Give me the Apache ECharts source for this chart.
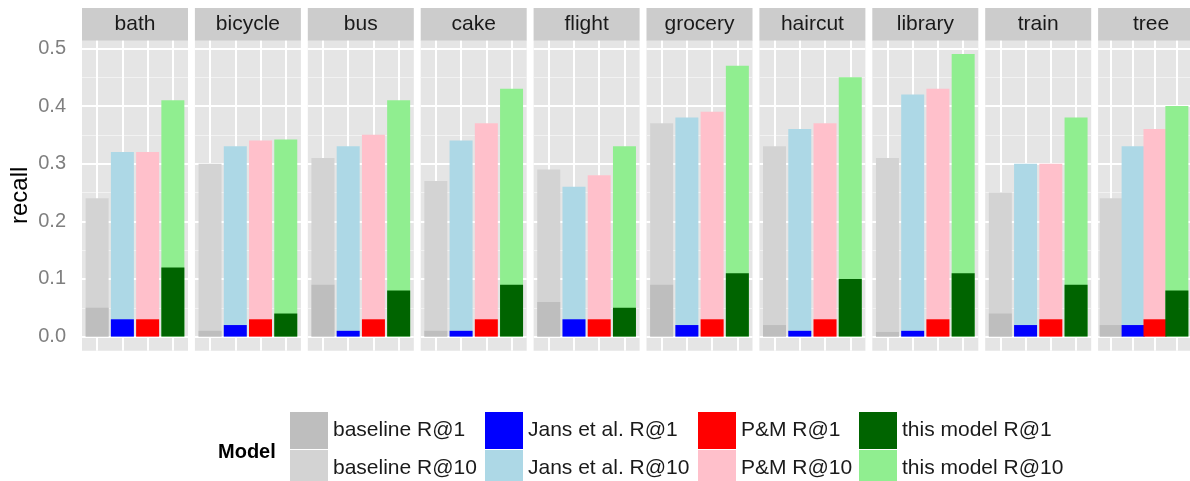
<!DOCTYPE html>
<html>
<head>
<meta charset="utf-8">
<script src="https://cdn.jsdelivr.net/npm/echarts@6/dist/echarts.min.js"></script>
<style>
  html, body { margin: 0; padding: 0; background: #fff; }
  #chart { width: 1190px; height: 481px; }
</style>
</head>
<body>
<div id="chart"></div>
<script>
// facets
const categories = ['bath', 'bicycle', 'bus', 'cake', 'flight', 'grocery', 'haircut', 'library', 'train', 'tree'];

// recall values per model, one entry per facet
const baselineR10 = [0.24, 0.30, 0.31, 0.27, 0.29, 0.37, 0.33, 0.31, 0.25, 0.24];
const baselineR1 = [0.05, 0.01, 0.09, 0.01, 0.06, 0.09, 0.02, 0.008, 0.04, 0.02];
const jansR10 = [0.32, 0.33, 0.33, 0.34, 0.26, 0.38, 0.36, 0.42, 0.30, 0.33];
const jansR1 = [0.03, 0.02, 0.01, 0.01, 0.03, 0.02, 0.01, 0.01, 0.02, 0.02];
const pmR10 = [0.32, 0.34, 0.35, 0.37, 0.28, 0.39, 0.37, 0.43, 0.30, 0.36];
const pmR1 = [0.03, 0.03, 0.03, 0.03, 0.03, 0.03, 0.03, 0.03, 0.03, 0.03];
const oursR10 = [0.41, 0.342, 0.41, 0.43, 0.33, 0.47, 0.45, 0.49, 0.38, 0.40];
const oursR1 = [0.12, 0.04, 0.08, 0.09, 0.05, 0.11, 0.10, 0.11, 0.09, 0.08];

const yTicks = ['0.0', '0.1', '0.2', '0.3', '0.4', '0.5'];

// model groups: R@1 name/colour, R@10 name/colour, data
const models = [
  { r1: 'baseline R@1', c1: '#BEBEBE', r10: 'baseline R@10', c10: '#D3D3D3', d1: baselineR1, d10: baselineR10 },
  { r1: 'Jans et al. R@1', c1: '#0000FF', r10: 'Jans et al. R@10', c10: '#ADD8E6', d1: jansR1, d10: jansR10 },
  { r1: 'P&M R@1', c1: '#FF0000', r10: 'P&M R@10', c10: '#FFC0CB', d1: pmR1, d10: pmR10 },
  { r1: 'this model R@1', c1: '#006400', r10: 'this model R@10', c10: '#90EE90', d1: oursR1, d10: oursR10 },
];

const FONT = 'Liberation Sans, Arial, Helvetica, sans-serif';
const panelLeft = 82, panelStep = 112.9, panelW = 106;
const panelTop = 40, panelH = 310.7;

const grids = [], xAxes = [], yAxes = [], series = [], graphics = [];

categories.forEach((cat, g) => {
  const left = panelLeft + g * panelStep;
  grids.push({ left: left, top: panelTop, width: panelW, height: panelH, backgroundColor: '#E5E5E5', show: true, borderWidth: 0 });
  xAxes.push({
    type: 'value', gridIndex: g, min: 0.4, max: 4.6,
    axisLine: { show: false }, axisTick: { show: false }, axisLabel: { show: false },
    splitLine: { show: true, showMinLine: false, showMaxLine: false, lineStyle: { color: '#fff', width: 2 } },
  });
  yAxes.push({
    type: 'value', gridIndex: g, min: -0.0245, max: 0.5145,
    axisLine: { show: false }, axisTick: { show: false },
    minorTick: { show: false, splitNumber: 2 },
    minorSplitLine: { show: true, lineStyle: { color: '#F2F2F2', width: 1 } },
    splitLine: { show: true, showMinLine: false, showMaxLine: false, lineStyle: { color: '#fff', width: 2 } },
    axisLabel: {
      show: g === 0, showMinLabel: false, showMaxLabel: false, margin: 16,
      color: '#7F7F7F', fontSize: 20, fontFamily: FONT,
      formatter: v => yTicks.includes(v.toFixed(1)) && Math.abs(v * 10 - Math.round(v * 10)) < 1e-6 ? v.toFixed(1) : '',
    },
    name: g === 0 ? 'recall' : '', nameLocation: 'middle', nameGap: 50, nameRotate: 90,
    nameTextStyle: { color: '#000', fontSize: 24, fontFamily: FONT },
  });

  models.forEach((m, k) => {
    series.push({
      name: m.r10, type: 'bar', xAxisIndex: g, yAxisIndex: g,
      barWidth: 23, barGap: '-100%', itemStyle: { color: m.c10 }, z: 2,
      silent: true, data: [[k + 1, m.d10[g]]],
    });
    series.push({
      name: m.r1, type: 'bar', xAxisIndex: g, yAxisIndex: g,
      barWidth: 23, barGap: '-100%', itemStyle: { color: m.c1 }, z: 3,
      silent: true, data: [[k + 1, m.d1[g]]],
    });
  });

  // facet strip
  graphics.push({ type: 'rect', shape: { x: left, y: 8, width: panelW, height: 32.5 }, style: { fill: '#CCCCCC' }, z: 10 });
  graphics.push({
    type: 'text', x: left + panelW / 2, y: 24, z: 11,
    style: { text: cat, fill: '#1A1A1A', font: '21px ' + FONT, textAlign: 'center', textVerticalAlign: 'middle' },
  });
});

graphics.push({
  type: 'text', x: 218, y: 452, z: 11,
  style: { text: 'Model', fill: '#000', font: 'bold 20px ' + FONT, textAlign: 'left', textVerticalAlign: 'middle' },
});

const legendLefts = [290, 485, 698, 859];
const legends = models.map((m, k) => ({
  left: legendLefts[k], top: 412, height: 90, width: 200, orient: 'vertical', padding: 0,
  itemWidth: 38, itemHeight: 37, itemGap: 1, icon: 'rect', selectedMode: false,
  textStyle: { fontSize: 21, color: '#1A1A1A', fontFamily: FONT },
  data: [m.r1, m.r10],
}));

const chart = echarts.init(document.getElementById('chart'));
chart.setOption({
  animation: false,
  backgroundColor: '#fff',
  grid: grids,
  xAxis: xAxes,
  yAxis: yAxes,
  legend: legends,
  graphic: graphics,
  series: series,
});
</script>
</body>
</html>
